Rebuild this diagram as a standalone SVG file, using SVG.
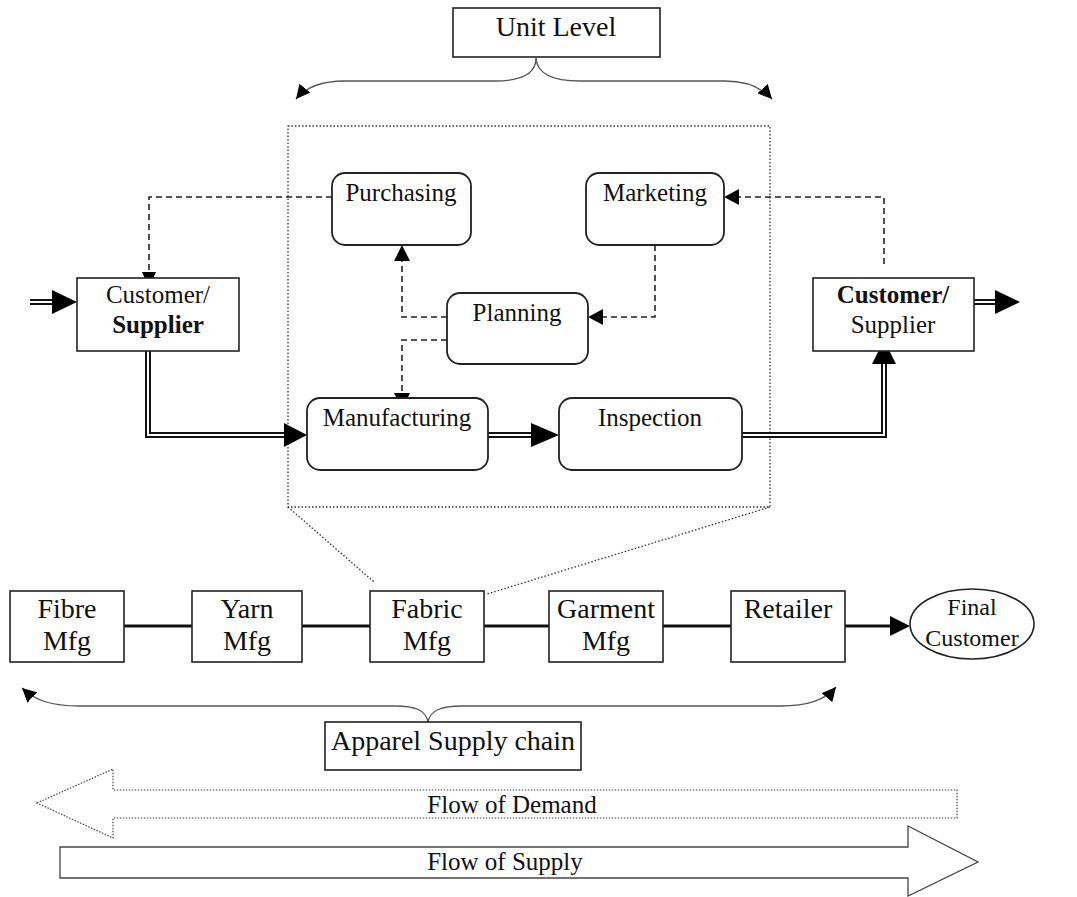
<svg xmlns="http://www.w3.org/2000/svg" width="1077" height="897" viewBox="0 0 1077 897">
<style>
text{text-anchor:middle;fill:#111}
.t{font-size:25px}
.tb{font-size:25px;font-weight:bold}
.big{font-size:28px}
.sm{font-size:24px}
.box{fill:#fff;stroke:#222;stroke-width:1.6}
.rbox{fill:#fff;stroke:#222;stroke-width:1.8}
.dbl{fill:none;stroke:#111;stroke-width:6}
.dblin{fill:none;stroke:#fff;stroke-width:2}
.dash{fill:none;stroke:#222;stroke-width:1.6;stroke-dasharray:6,4}
.head{fill:#000}
.brace{fill:none;stroke:#555;stroke-width:1.3}
.dot{fill:none;stroke:#333;stroke-width:1.3;stroke-dasharray:1.5,2}
.chain{fill:none;stroke:#111;stroke-width:3}
</style>
<defs>
<marker id="triB" viewBox="0 0 10 10" refX="10" refY="5" markerWidth="14" markerHeight="14" markerUnits="userSpaceOnUse" orient="auto"><path d="M0,0 L10,5 L0,10 z" fill="#000"/></marker>
</defs>

<g id="frame">
<rect class="dot" x="288" y="126" width="482" height="381"/>
<line class="dot" x1="288" y1="507" x2="374" y2="582"/>
<line class="dot" x1="770" y1="507" x2="487" y2="594"/>
</g>

<g font-family="'Liberation Serif', 'DejaVu Serif', 'Times New Roman', serif">
<g id="unit-level">
<rect class="box" x="453" y="8" width="207" height="49"/>
<text class="big" x="556" y="36">Unit Level</text>
</g>
<g id="unit-brace">
<path class="brace" d="M536,58 C536,74 522,81 495,81 L345,81 C320,81 305,88 296,99" marker-end="url(#triB)"/>
<path class="brace" d="M536,58 C537,74 552,81 580,81 L725,81 C748,81 762,88 772,99" marker-end="url(#triB)"/>
</g>

<g id="connectors">
<path class="dbl" d="M30,302 H55"/><path class="dblin" d="M28,302 H56"/>
<polygon class="head" points="52,290 77,302 52,314"/>
<path class="dbl" d="M148,351 V435 H290"/><path class="dblin" d="M148,350 V435 H291"/>
<polygon class="head" points="284,423 307,435 284,447"/>
<path class="dbl" d="M488,435 H535"/><path class="dblin" d="M487,435 H536"/>
<polygon class="head" points="531,423 559,435 531,447"/>
<path class="dbl" d="M742,435 H884 V362"/><path class="dblin" d="M741,435 H884 V361"/>
<polygon class="head" points="872,364 884,340 896,364"/>
<path class="dbl" d="M974,302 H998"/><path class="dblin" d="M973,302 H999"/>
<polygon class="head" points="995,290 1020,302 995,314"/>
<path class="dash" d="M332,197 H149 V272"/>
<polygon class="head" points="142,272 149,288 156,272"/>
<path class="dash" d="M884,264 V197 H738"/>
<polygon class="head" points="739,189 724,197 739,205"/>
<path class="dash" d="M655,245 V317 H603"/>
<polygon class="head" points="603,309 588,317 603,325"/>
<path class="dash" d="M447,317 H402 V260"/>
<polygon class="head" points="394,261 402,245 410,261"/>
<path class="dash" d="M447,340 H402 V393"/>
<polygon class="head" points="394,393 402,409 410,393"/>
<line class="chain" x1="124" y1="626" x2="192" y2="626"/>
<line class="chain" x1="302" y1="626" x2="370" y2="626"/>
<line class="chain" x1="484" y1="626" x2="549" y2="626"/>
<line class="chain" x1="663" y1="626" x2="731" y2="626"/>
<line class="chain" x1="845" y1="626" x2="892" y2="626"/>
<polygon class="head" points="890,616 910,626 890,636"/>
</g>

<g id="customer-supplier-left">
<rect class="box" x="77" y="278" width="162" height="73"/>
<text class="t" x="158" y="303">Customer/</text>
<text class="tb" x="158" y="333">Supplier</text>
</g>
<g id="customer-supplier-right">
<rect class="box" x="813" y="278" width="161" height="73"/>
<text class="tb" x="893" y="303">Customer/</text>
<text class="t" x="893" y="333">Supplier</text>
</g>
<g id="purchasing">
<rect class="rbox" x="332" y="173" width="139" height="72" rx="13"/>
<text class="t" x="401" y="201">Purchasing</text>
</g>
<g id="marketing">
<rect class="rbox" x="586" y="173" width="138" height="72" rx="13"/>
<text class="t" x="655" y="201">Marketing</text>
</g>
<g id="planning">
<rect class="rbox" x="447" y="293" width="141" height="71" rx="13"/>
<text class="t" x="517" y="321">Planning</text>
</g>
<g id="manufacturing">
<rect class="rbox" x="307" y="398" width="181" height="72" rx="13"/>
<text class="t" x="397" y="426">Manufacturing</text>
</g>
<g id="inspection">
<rect class="rbox" x="559" y="398" width="183" height="72" rx="13"/>
<text class="t" x="650" y="426">Inspection</text>
</g>

<g id="fibre">
<rect class="box" x="10" y="591" width="114" height="71"/>
<text class="big" x="67" y="618">Fibre</text>
<text class="big" x="67" y="650">Mfg</text>
</g>
<g id="yarn">
<rect class="box" x="192" y="591" width="110" height="71"/>
<text class="big" x="247" y="618">Yarn</text>
<text class="big" x="247" y="650">Mfg</text>
</g>
<g id="fabric">
<rect class="box" x="370" y="591" width="114" height="71"/>
<text class="big" x="427" y="618">Fabric</text>
<text class="big" x="427" y="650">Mfg</text>
</g>
<g id="garment">
<rect class="box" x="549" y="591" width="114" height="71"/>
<text class="big" x="606" y="618">Garment</text>
<text class="big" x="606" y="650">Mfg</text>
</g>
<g id="retailer">
<rect class="box" x="731" y="591" width="114" height="71"/>
<text class="big" x="788" y="618">Retailer</text>
</g>
<g id="final-customer">
<ellipse class="box" cx="972" cy="624" rx="62" ry="35"/>
<text class="sm" x="972" y="615">Final</text>
<text class="sm" x="972" y="646">Customer</text>
</g>

<g id="chain-brace">
<path class="brace" d="M428,722 C426,710 415,706 395,706 L80,706 C50,706 35,700 22,688" marker-end="url(#triB)"/>
<path class="brace" d="M428,722 C430,710 442,706 462,706 L780,706 C808,706 825,700 836,687" marker-end="url(#triB)"/>
</g>
<g id="apparel">
<rect class="box" x="325" y="722" width="256" height="48"/>
<text class="big" x="453" y="750">Apparel Supply chain</text>
</g>

<g id="flow-demand">
<polygon points="37,803 113,769 113,790 957,790 957,818 113,818 113,838" fill="#fff" stroke="#444" stroke-width="1.2" stroke-dasharray="1.5,1.5"/>
<text class="t" x="512" y="813">Flow of Demand</text>
</g>
<g id="flow-supply">
<polygon points="60,847 908,847 908,826 978,862 908,896 908,878 60,878" fill="#fff" stroke="#444" stroke-width="1.3"/>
<text class="t" x="505" y="870">Flow of Supply</text>
</g>
</g>
</svg>
